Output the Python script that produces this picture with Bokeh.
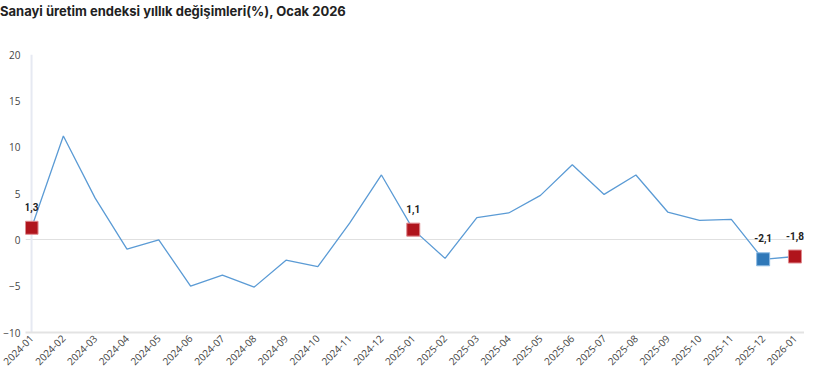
import math
from bokeh.plotting import figure
from bokeh.layouts import column
from bokeh.models import Range1d, FixedTicker, ColumnDataSource, LabelSet, Span, Div
from bokeh.core.properties import value
from bokeh.embed import file_html
from bokeh.resources import INLINE

months = ["2024-01", "2024-02", "2024-03", "2024-04", "2024-05", "2024-06", "2024-07",
          "2024-08", "2024-09", "2024-10", "2024-11", "2024-12", "2025-01", "2025-02",
          "2025-03", "2025-04", "2025-05", "2025-06", "2025-07", "2025-08", "2025-09",
          "2025-10", "2025-11", "2025-12", "2026-01"]
values = [1.3, 11.2, 4.5, -1.0, 0.0, -5.0, -3.8, -5.1, -2.2, -2.9, 1.8, 7.0, 1.1, -2.0,
          2.4, 2.9, 4.8, 8.1, 4.9, 7.0, 3.0, 2.1, 2.2, -2.1, -1.8]
highlight_months = ["2024-01", "2025-01", "2025-12", "2026-01"]
highlight_kind = ["january", "january", "previous", "january"]
y_ticks = [-10, -5, 0, 5, 10, 15, 20]
title_text = "Sanayi üretim endeksi yıllık değişimleri(%), Ocak 2026"

kind_color = {"january": "#b0141c", "previous": "#2f78b8"}
kind_edge = {"january": "#e08a8f", "previous": "#8dbbe3"}

W = 804
x = list(range(len(months)))
hx = [months.index(m) for m in highlight_months]
hy = [values[i] for i in hx]
hsrc = ColumnDataSource(dict(
    x=hx, y=hy,
    fill=[kind_color[k] for k in highlight_kind],
    edge=[kind_edge[k] for k in highlight_kind],
    label=[f"{v:.1f}".replace(".", ",") for v in hy],
))

title = Div(text=title_text, width=W, height=20, margin=(0, 0, 0, 0),
            styles={"font-family": "Inter", "font-size": "13px", "font-weight": "bold",
                    "color": "#222222", "line-height": "22px"})

p = figure(width=W, height=351, output_backend="svg", toolbar_location=None,
           x_range=Range1d(-0.19, 24.3), y_range=Range1d(y_ticks[0], y_ticks[-1]),
           min_border_left=0, min_border_right=0, min_border_top=34, min_border_bottom=0)
p.outline_line_color = None
p.background_fill_color = "white"
p.border_fill_color = "white"

p.add_layout(Span(location=x[0], dimension="height", line_color="#e6e9f2", line_width=2,
                  level="underlay"))
p.line(x, values, line_color="#5b9bd5", line_width=1.3)
p.scatter("x", "y", source=hsrc, marker="square", size=13,
          fill_color="fill", line_color="edge", line_width=1)
p.add_layout(LabelSet(x="x", y="y", text="label", source=hsrc, text_font=value("Roboto"),
                      text_font_size="10px", text_font_style="bold", text_color="#222222",
                      text_align="center", text_baseline="middle", y_offset=21))

p.xaxis.ticker = FixedTicker(ticks=x)
p.xaxis.major_label_overrides = {i: m for i, m in enumerate(months)}
p.xaxis.major_label_orientation = math.pi / 4
p.xaxis.major_label_text_font = "Open Sans"
p.xaxis.major_label_text_font_size = "10px"
p.xaxis.major_label_text_color = "#444444"
p.xaxis.major_tick_line_color = None
p.xaxis.major_tick_out = 0
p.xaxis.major_tick_in = 0
p.xaxis.minor_tick_line_color = None
p.xaxis.minor_tick_out = 0
p.xaxis.axis_line_color = "#e3e3e3"
p.xaxis.axis_line_width = 2
p.xaxis.major_label_standoff = 4

p.yaxis.ticker = FixedTicker(ticks=y_ticks)
p.yaxis.major_label_text_font = "Open Sans"
p.yaxis.major_label_text_font_size = "10px"
p.yaxis.major_label_text_color = "#444444"
p.yaxis.major_tick_line_color = None
p.yaxis.major_tick_out = 0
p.yaxis.major_tick_in = 0
p.yaxis.minor_tick_line_color = None
p.yaxis.minor_tick_out = 0
p.yaxis.axis_line_color = None
p.yaxis.major_label_standoff = 5

p.xgrid.grid_line_color = None
p.ygrid.ticker = FixedTicker(ticks=[0])
p.ygrid.grid_line_color = "#e0e0e0"

layout = column(title, p, spacing=0)
open("out.html", "w").write(file_html(layout, INLINE))
